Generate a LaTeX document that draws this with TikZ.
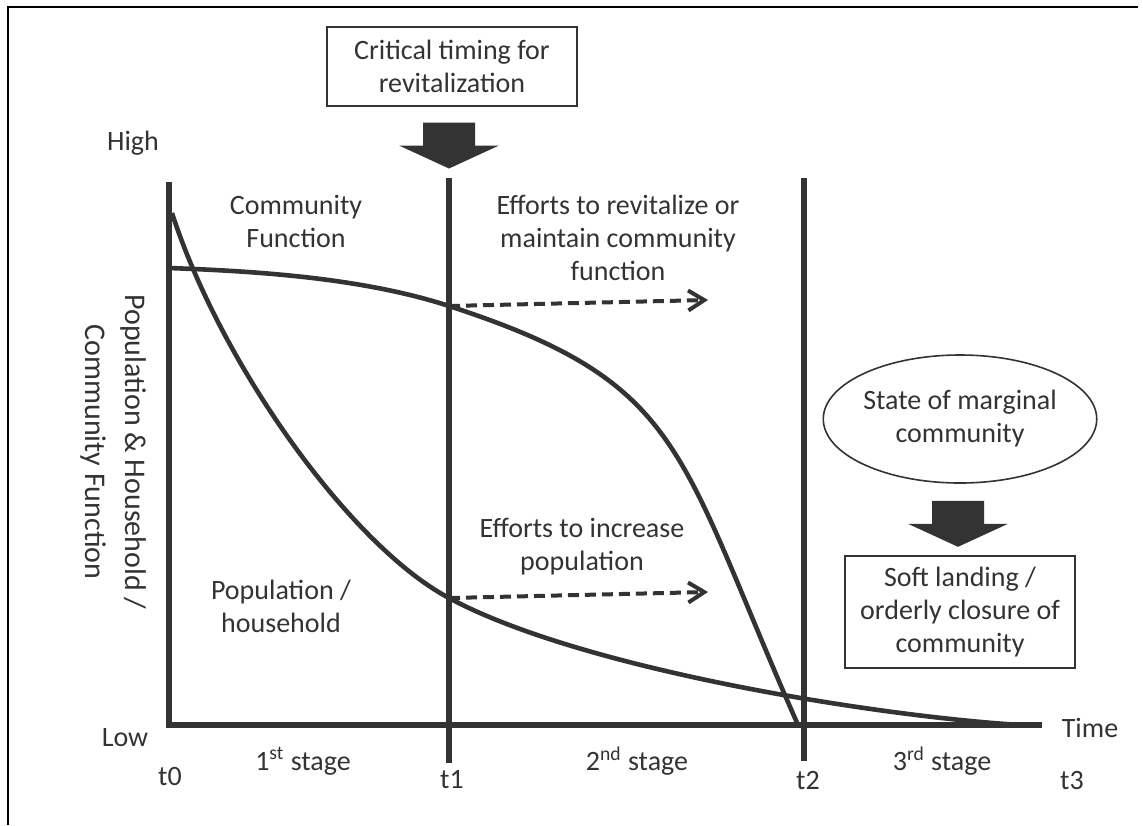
\documentclass[tikz,border=0pt]{standalone}
\usepackage{fontspec}
\setmainfont{Carlito}
\usetikzlibrary{positioning, calc, arrows.meta, shapes.geometric}
\definecolor{ink}{HTML}{333333}

\begin{document}
\begin{tikzpicture}[x=0.5pt, y=-0.5pt,
    every node/.style={font=\fontsize{14}{16.5}\selectfont, text=ink, align=center, inner sep=0pt},
    box/.style={draw=ink, line width=1pt},
    axisline/.style={draw=ink, line width=3pt},
    curve/.style={draw=ink, line width=2.3pt},
    effort/.style={draw=ink, line width=2pt, dash pattern=on 5.5pt off 3pt, -{Straight Barb[length=8pt,width=10pt]}},
    bigarrow/.pic={\fill[ink] (-26,0) -- (26,0) -- (26,23) -- (50,23) -- (0,46) -- (-50,23) -- (-26,23) -- cycle;}]
    \useasboundingbox (0,0) rectangle (1143,825);
    \draw[line width=0.8pt] (8,825) -- (8,7) -- (1138,7);

    \node[box, minimum width=125pt, minimum height=39.5pt] (crit) at (452,66) {Critical timing for\\revitalization};
    \pic at ($(crit.south)+(-3,16)$) {bigarrow};
    \node[ellipse, draw=ink, line width=0.8pt, minimum width=128pt, minimum height=64pt] (marg) at (960,419) {State of marginal\\community};
    \node[box, minimum width=115pt, minimum height=56pt, below=35.5pt of marg] (land) {Soft landing /\\orderly closure of\\community};
    \pic at ($(marg.south)+(-2,17)$) {bigarrow};

    \coordinate (top0) at (169,182);
    \coordinate (O) at (169,725);
    \coordinate (xend) at (1042,725);
    \coordinate (top1) at (449,178);
    \coordinate (bot1) at (449,763);
    \coordinate (top2) at (804,178);
    \coordinate (bot2) at (804,761);
    \draw[axisline] (top0) -- (O) -- (xend);
    \draw[axisline] (top1) -- (bot1);
    \draw[axisline] (top2) -- (bot2);

    \draw[curve] (169,268) .. controls (250,271) and (360,277) .. (449,306) coordinate (cf1)
        .. controls (686,383) and (676,449) .. (798,725);
    \draw[curve] (172,213) .. controls (221,365) and (351,546) .. (449,598) coordinate (pop1)
        .. controls (580,668.5) and (870,715.5) .. (1020,725);

    \coordinate (e1) at (708,300);
    \coordinate (e2) at (708,592);
    \draw[effort] (cf1) -- (e1);
    \draw[effort] (pop1) -- (e2);

    \node (hi) at (133,143) {High};
    \node (lo) at (125,738) {Low};
    \node (time) at (1090,728) {Time};
    \node (t0) at (170,776) {t0};
    \node (t1) at (452,780) {t1};
    \node (t2) at (808,780) {t2};
    \node (t3) at (1072,780) {t3};
    \node (s1) at (303,761) {1\textsuperscript{st} stage};
    \node (s2) at (637,761) {2\textsuperscript{nd} stage};
    \node (s3) at (942,761) {3\textsuperscript{rd} stage};
    \node[rotate=-90, font=\fontsize{15}{20}\selectfont] (ylab) at (113,452) {Population \& Household /\\Community Function};
    \node (cf) at (296,221) {Community\\Function};
    \node (pop) at (281,606) {Population /\\household};
    \node (ef1) at (618,238) {Efforts to revitalize or\\maintain community\\function};
    \node (ef2) at (582,547) {Efforts to increase\\population};
\end{tikzpicture}
\end{document}
